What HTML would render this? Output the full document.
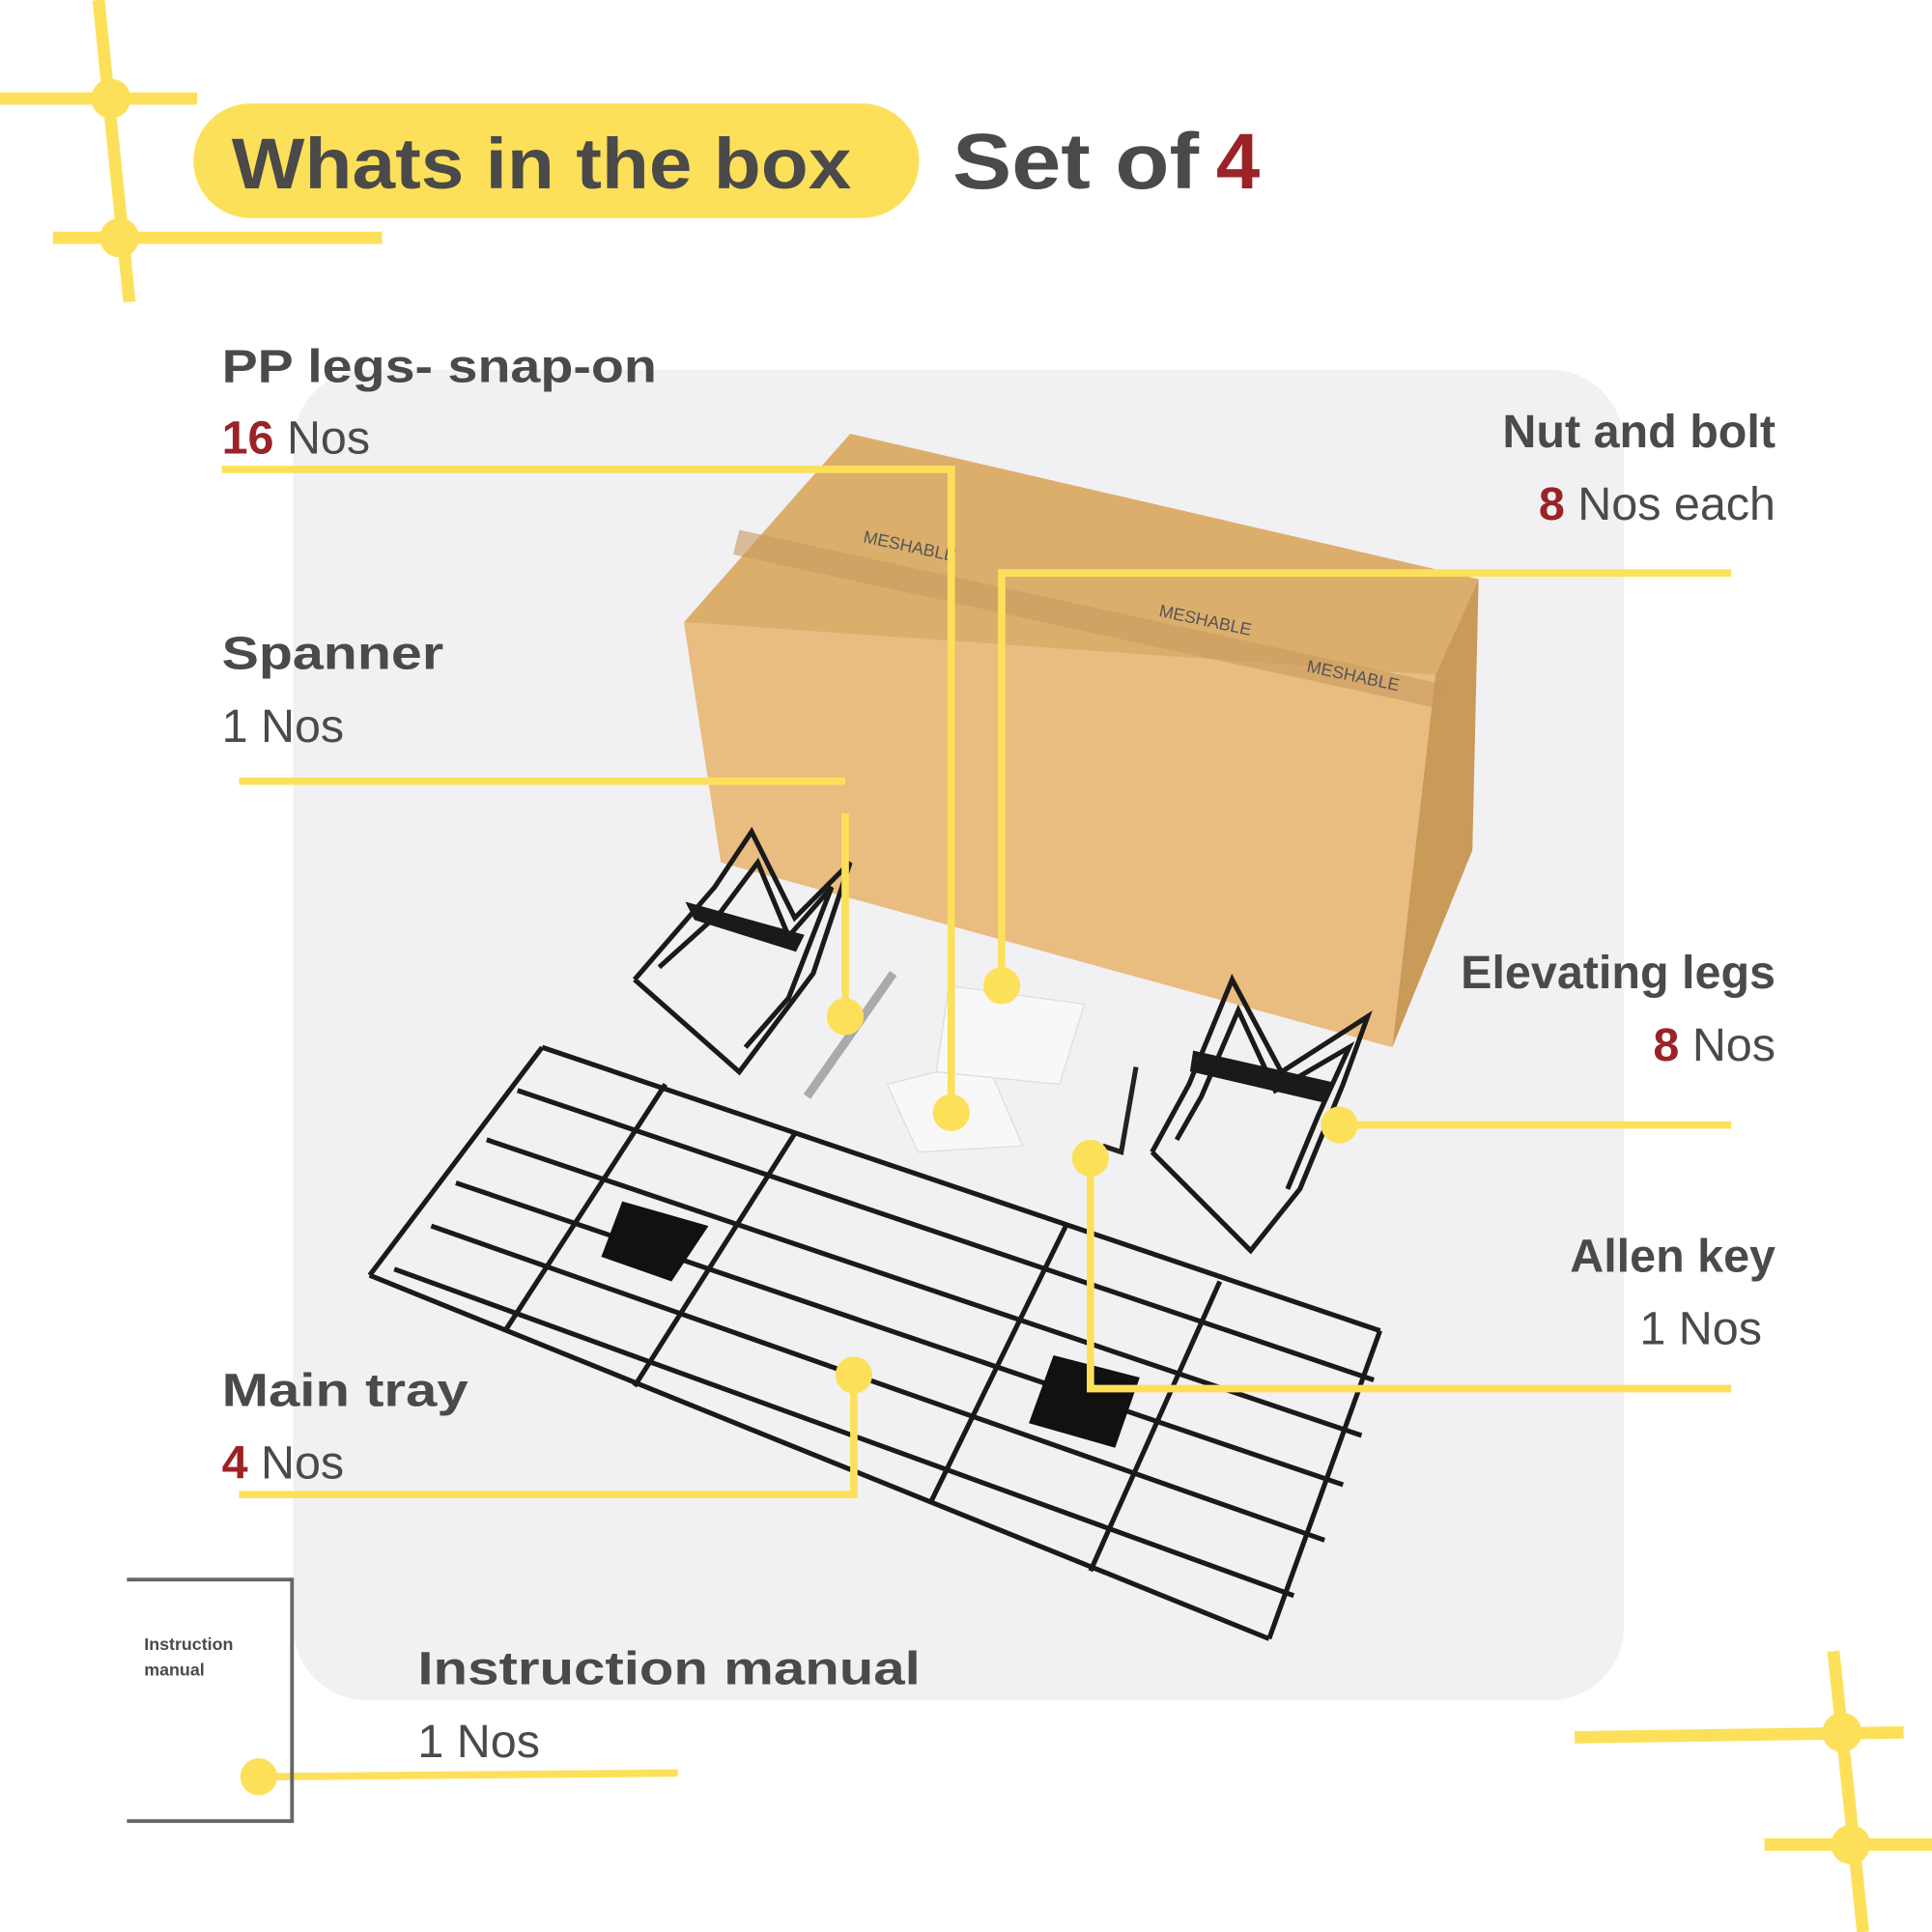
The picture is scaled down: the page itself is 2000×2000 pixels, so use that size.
<!DOCTYPE html>
<html><head><meta charset="utf-8"><style>
html,body{margin:0;padding:0;background:#fff;}
svg{display:block;}
text{font-family:"Liberation Sans",sans-serif;}
</style></head><body>
<svg width="2000" height="2000" viewBox="0 0 1568 1568" xmlns="http://www.w3.org/2000/svg">
<rect width="1568" height="1568" fill="#fff"/>
<!-- photo area -->
<rect x="238" y="300" width="1080" height="1080" rx="60" fill="#f1f1f4"/>
<!-- box -->
<polygon points="555,505 690,352 1200,470 1165,548" fill="#dcae6c"/>
<polygon points="555,505 1165,548 1130,850 585,700" fill="#e9bc80"/>
<polygon points="1165,548 1200,470 1195,690 1130,850" fill="#c99a58"/>
<polygon points="600,430 1170,555 1168,575 595,450" fill="#c89a5e" opacity="0.6"/>
<text x="700" y="440" font-size="14" fill="#555" transform="rotate(12 700 440)">MESHABLE</text>
<text x="940" y="500" font-size="14" fill="#555" transform="rotate(12 940 500)">MESHABLE</text>
<text x="1060" y="545" font-size="14" fill="#555" transform="rotate(12 1060 545)">MESHABLE</text>
<!-- small items -->
<polygon points="720,880 800,860 830,930 745,935" fill="#f8f8f8" stroke="#ddd"/>
<polygon points="770,800 880,815 860,880 760,870" fill="#f8f8f8" stroke="#ddd"/>
<line x1="655" y1="890" x2="725" y2="790" stroke="#aaa" stroke-width="7"/>
<polyline points="895,930 910,935 922,866" fill="none" stroke="#222" stroke-width="4"/>
<!-- PP legs left -->
<g fill="none" stroke="#1a1a1a" stroke-width="4">
<polyline points="515,795 580,720 610,675 645,745 690,700 660,790 600,870 515,795"/>
<polyline points="535,785 585,740 615,700 640,760 675,720 640,810 605,850"/>
<polygon points="560,735 650,760 645,770 565,745" fill="#1a1a1a"/>
<!-- right legs -->
<polyline points="935,935 965,880 1000,795 1040,870 1110,825 1090,880 1055,965 1015,1015 935,935"/>
<polyline points="955,925 975,890 1005,820 1035,885 1095,850 1070,905 1045,965"/>
<polygon points="970,855 1080,880 1075,893 968,868" fill="#1a1a1a"/>
</g>
<!-- tray -->
<g fill="none" stroke="#1a1a1a" stroke-width="4">
<line x1="440" y1="850" x2="1120" y2="1080"/>
<line x1="420" y1="885" x2="1115" y2="1120"/>
<line x1="395" y1="925" x2="1105" y2="1165"/>
<line x1="370" y1="960" x2="1090" y2="1205"/>
<line x1="350" y1="995" x2="1075" y2="1250"/>
<line x1="320" y1="1030" x2="1050" y2="1295"/>
<line x1="300" y1="1035" x2="1030" y2="1330"/>
<line x1="440" y1="850" x2="300" y2="1035"/>
<line x1="1120" y1="1080" x2="1030" y2="1330"/>
<line x1="540" y1="880" x2="410" y2="1080"/>
<line x1="645" y1="920" x2="515" y2="1125"/>
<line x1="865" y1="995" x2="755" y2="1220"/>
<line x1="990" y1="1040" x2="885" y2="1275"/>
</g>
<polygon points="505,975 575,995 545,1040 488,1020" fill="#111"/>
<polygon points="855,1100 925,1118 905,1175 835,1155" fill="#111"/>
<!-- decorative crosses -->
<g stroke="#fde05a" stroke-width="10" fill="#fde05a">
<line x1="80" y1="0" x2="105" y2="245"/>
<line x1="0" y1="80" x2="160" y2="80"/>
<line x1="43" y1="193" x2="310" y2="193"/>
<line x1="1488" y1="1340" x2="1512" y2="1568"/>
<line x1="1278" y1="1410" x2="1545" y2="1406"/>
<line x1="1432" y1="1497" x2="1568" y2="1497"/>
<circle cx="90" cy="80" r="16" stroke="none"/>
<circle cx="97" cy="193" r="16" stroke="none"/>
<circle cx="1495" cy="1406" r="16" stroke="none"/>
<circle cx="1502" cy="1497" r="16" stroke="none"/>
</g>
<!-- header -->
<rect x="157" y="84" width="589" height="93" rx="46.5" fill="#fde05a"/>
<text x="188" y="153" font-size="58" font-weight="bold" fill="#4a4a4a" textLength="503" lengthAdjust="spacingAndGlyphs">Whats in the box</text>
<text x="773" y="153" font-size="64" font-weight="bold" fill="#4a4a4a" textLength="200" lengthAdjust="spacingAndGlyphs">Set of</text>
<text x="987" y="153" font-size="64" font-weight="bold" fill="#9b2226">4</text>
<!-- connectors -->
<g stroke="#fde05a" stroke-width="6" fill="none">
<polyline points="180,381 772,381 772,903"/>
<polyline points="813,800 813,465 1405,465"/>
<line x1="194" y1="634" x2="686" y2="634"/>
<line x1="686" y1="660" x2="686" y2="825"/>
<line x1="1087" y1="913" x2="1405" y2="913"/>
<polyline points="885,940 885,1127 1405,1127"/>
<polyline points="693,1116 693,1213 194,1213"/>
<line x1="210" y1="1442" x2="550" y2="1439"/>
</g>
<g fill="#fde05a">
<circle cx="772" cy="903" r="15"/><circle cx="813" cy="800" r="15"/>
<circle cx="686" cy="825" r="15"/><circle cx="1087" cy="913" r="15"/>
<circle cx="885" cy="940" r="15"/><circle cx="693" cy="1116" r="15"/>
<circle cx="210" cy="1442" r="15"/>
</g>
<!-- labels -->
<g font-size="38" fill="#4a4a4a">
<text x="180" y="310" font-weight="bold" textLength="353" lengthAdjust="spacingAndGlyphs">PP legs- snap-on</text>
<text x="180" y="368"><tspan fill="#9b2226" font-weight="bold">16</tspan> Nos</text>
<text x="1441" y="363" font-weight="bold" text-anchor="end">Nut and bolt</text>
<text x="1441" y="422" text-anchor="end"><tspan fill="#9b2226" font-weight="bold">8</tspan> Nos each</text>
<text x="180" y="543" font-weight="bold" textLength="180" lengthAdjust="spacingAndGlyphs">Spanner</text>
<text x="180" y="602">1 Nos</text>
<text x="1441" y="802" font-weight="bold" text-anchor="end">Elevating legs</text>
<text x="1441" y="861" text-anchor="end"><tspan fill="#9b2226" font-weight="bold">8</tspan> Nos</text>
<text x="1441" y="1032" font-weight="bold" text-anchor="end">Allen key</text>
<text x="1430" y="1091" text-anchor="end">1 Nos</text>
<text x="180" y="1141" font-weight="bold" textLength="200" lengthAdjust="spacingAndGlyphs">Main tray</text>
<text x="180" y="1200"><tspan fill="#9b2226" font-weight="bold">4</tspan> Nos</text>
<text x="339" y="1367" font-weight="bold" textLength="408" lengthAdjust="spacingAndGlyphs">Instruction manual</text>
<text x="339" y="1426">1 Nos</text>
</g>
<!-- manual -->
<polyline points="103,1282 237,1282 237,1478 103,1478" fill="none" stroke="#666" stroke-width="3"/>
<text x="117" y="1339" font-size="14" font-weight="bold" fill="#4a4a4a">Instruction</text>
<text x="117" y="1360" font-size="14" font-weight="bold" fill="#4a4a4a">manual</text>
</svg>
</body></html>
